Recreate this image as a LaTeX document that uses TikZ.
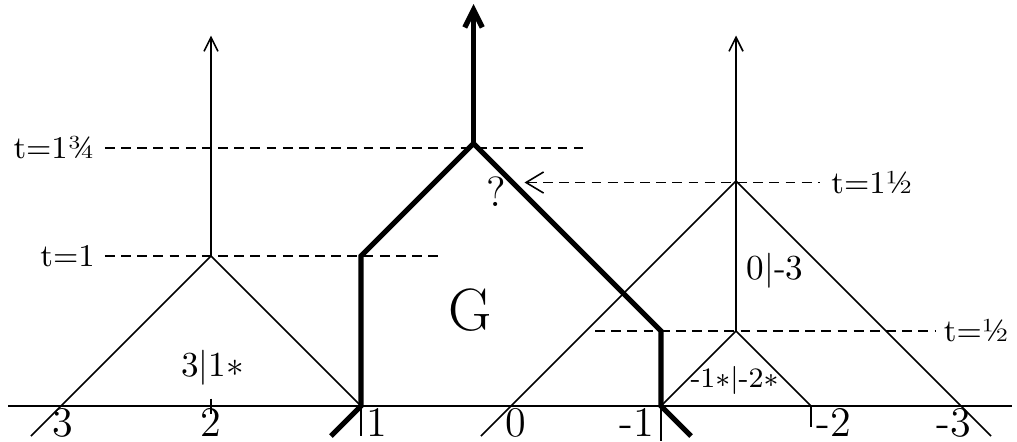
\documentclass[tikz,border=0pt]{standalone}
\usetikzlibrary{arrows.meta}

\begin{document}
\begin{tikzpicture}[x=1.5cm,y=1.5cm,
  thinline/.style={line width=0.45pt},
  thickline/.style={line width=1.5pt, line join=miter},
  levelline/.style={line width=0.45pt, dash pattern=on 2.8pt off 1.8pt},
  tlabel/.style={font=\small, inner sep=0.5pt},
  vlabel/.style={font=\large, inner sep=1pt},
  boxlabel/.style={font=\normalsize, inner sep=1pt}]

% Cornice
\useasboundingbox (-3.4067,-0.2333) rectangle (3.3733,2.7067);

% Asse
\draw[thinline] (-3.353,0) -- (3.34,0);

% Punti principali
\coordinate (apexL) at (-2,1);
\coordinate (apexR) at (1.5,1.5);
\coordinate (apexS) at (1.5,0.5);
\coordinate (top) at (-0.25,1.75);

% Triangolo sinistro
\draw[thinline] (-3.2,-0.2) -- (apexL) -- (-1,0);
\draw[thinline, -{Straight Barb[length=4pt,width=4pt]}] (apexL) -- (-2,2.47);
\draw[thinline] (-2,0.05) -- (-2,-0.05);

% Triangolo destro e piccolo
\draw[thinline] (-0.2,-0.2) -- (apexR) -- (3.2,-0.2);
\draw[thinline] (1,0) -- (apexS) -- (2,0);
\draw[thinline, -{Straight Barb[length=4pt,width=4pt]}] (apexS) -- (1.5,2.47);

% Tacche sotto l'asse
\draw[thinline] (-1,0) -- (-1,-0.2);
\draw[thinline] (1,0) -- (1,-0.23);
\draw[thinline] (2,0) -- (2,-0.14);

% Linee di livello
\draw[levelline] (-2.707,1) -- (-0.473,1);
\draw[levelline] (-2.707,1.72) -- (0.48,1.72);
\draw[levelline] (0.56,0.5) -- (2.827,0.5);
\coordinate (arrowTip) at (0.09,1.49);
\coordinate (arrowEnd) at (2.06,1.49);
\draw[levelline, {Straight Barb[length=5pt,width=6pt]}-] (arrowTip) -- (arrowEnd);

% Regione G
\draw[thickline] (-1.2,-0.2) -- (-1,0) -- (-1,1) -- (top) -- (1,0.5) -- (1,0) -- (1.2,-0.2);
\draw[thickline, -{Straight Barb[length=5pt,width=5pt]}] (top) -- (-0.25,2.68);

% Etichette dei tempi
\node[tlabel, anchor=east] (tA) at (-2.76,1.72) {t=1¾};
\node[tlabel, anchor=east] (tB) at (-2.76,1.0) {t=1};
\node[tlabel, anchor=west] (tC) at (2.12,1.49) {t=1½};
\node[tlabel, anchor=west] (tD) at (2.87,0.5) {t=½};

% Valori sull'asse
\node[vlabel] (v3) at (-2.99,-0.11) {3};
\node[vlabel] (v2) at (-2,-0.11) {2};
\node[vlabel, anchor=west] (v1) at (-0.99,-0.11) {1};
\node[vlabel] (v0) at (0.03,-0.11) {0};
\node[vlabel, anchor=east] (vm1) at (0.98,-0.11) {-1};
\node[vlabel, anchor=west] (vm2) at (2.01,-0.11) {-2};
\node[vlabel] (vm3) at (2.95,-0.11) {-3};

% Etichette interne
\node[boxlabel] (pL) at (-1.99,0.255) {3|1$\ast$};
\node[boxlabel] (pR) at (1.76,0.9) {0|-3};
\node[boxlabel, font=\footnotesize] (pS) at (1.49,0.17) {-1$\ast$|-2$\ast$};
\node[font=\fontsize{17}{20}\selectfont] (G) at (-0.27,0.64) {G};
\node[font=\large] (Q) at (-0.1,1.43) {?};

\end{tikzpicture}
\end{document}
